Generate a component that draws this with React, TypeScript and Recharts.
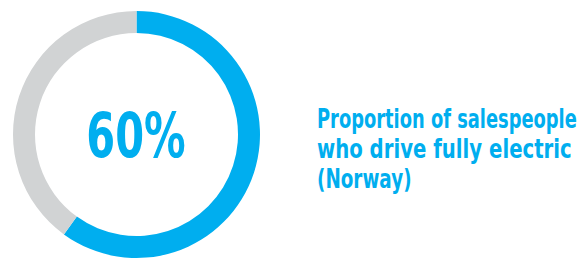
import { PieChart, Pie, Cell } from "recharts";

const SEGMENTS = ["Fully electric", "Other"];
const VALUES = [60, 40];
const CENTER_LABEL = "60%";
const CAPTION = ["Proportion of salespeople", "who drive fully electric", "(Norway)"];

const BLUE = "#00aeef";
const GREY = "#d1d3d4";
const FONT = "'DejaVu Sans', sans-serif";
// the reference face is a condensed grotesque; squeeze DejaVu horizontally per line
const SQUEEZE = [0.662, 0.73, 0.68];

const data = SEGMENTS.map((name, i) => ({ name, value: VALUES[i] }));

export default function App() {
  return (
    <div style={{ position: "absolute", left: 0, top: 0, width: 587, height: 259, background: "#fff" }}>
      <PieChart width={587} height={259} margin={{ top: 0, right: 0, bottom: 0, left: 0 }}>
        <Pie
          data={data}
          dataKey="value"
          cx={136.5}
          cy={134.5}
          innerRadius={101.5}
          outerRadius={123.5}
          startAngle={90}
          endAngle={-270}
          stroke="none"
          isAnimationActive={false}
        >
          {data.map((_, i) => (
            <Cell key={i} fill={i === 0 ? BLUE : GREY} />
          ))}
        </Pie>
      </PieChart>
      <svg width={587} height={259} style={{ position: "absolute", left: 0, top: 0 }}>
        <g transform={`translate(136, 157) scale(0.67, 1)`}>
          <text x={0} y={0} textAnchor="middle" fill={BLUE} fontFamily={FONT} fontWeight={700} fontSize={62}>
            {CENTER_LABEL}
          </text>
        </g>
        {CAPTION.map((line, i) => (
          <g key={i} transform={`translate(317, ${128 + i * 30}) scale(${SQUEEZE[i]}, 1)`}>
            <text x={0} y={0} fill={BLUE} fontFamily={FONT} fontWeight={700} fontSize={27}>
              {line}
            </text>
          </g>
        ))}
      </svg>
    </div>
  );
}
